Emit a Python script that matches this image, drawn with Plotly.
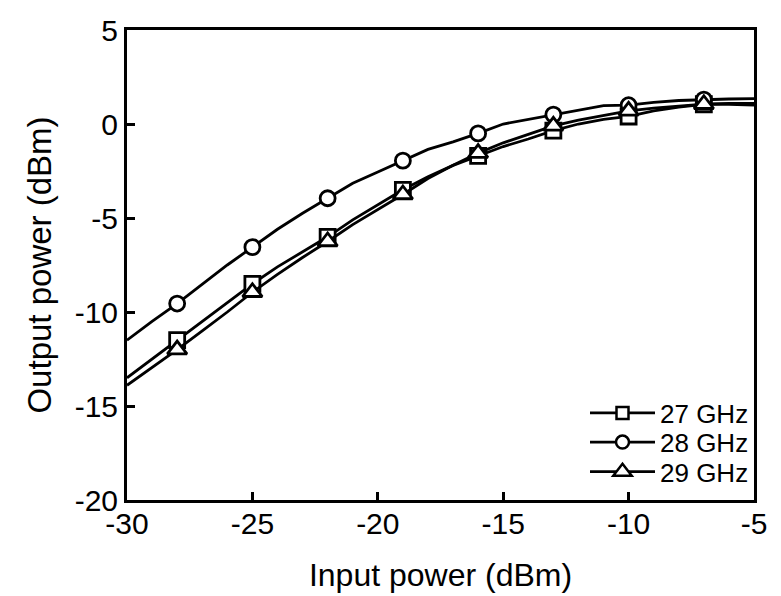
import plotly.graph_objects as go

input_power = list(range(-30, -4))
out_27 = [-13.5, -12.5, -11.5, -10.5, -9.5, -8.5, -7.6, -6.8, -6.0, -5.1, -4.3, -3.5, -2.8,
          -2.2, -1.7, -1.2, -0.8, -0.35, 0.0, 0.25, 0.4, 0.7, 0.9, 1.05, 1.1, 1.1]
out_28 = [-11.5, -10.5, -9.55, -8.5, -7.5, -6.55, -5.6, -4.75, -3.95, -3.15, -2.55, -1.95, -1.35,
          -0.95, -0.5, 0.0, 0.25, 0.5, 0.75, 0.98, 1.0, 1.15, 1.25, 1.3, 1.33, 1.35]
out_29 = [-13.9, -12.95, -12.0, -11.0, -10.0, -8.95, -8.0, -7.1, -6.25, -5.35, -4.55, -3.75, -2.9,
          -2.2, -1.55, -1.0, -0.55, -0.1, 0.2, 0.45, 0.7, 0.85, 0.95, 1.05, 1.05, 1.0]
series_names = ["27 GHz", "28 GHz", "29 GHz"]
symbols = ["square", "circle", "triangle-up"]
marker_x = [-28, -25, -22, -19, -16, -13, -10, -7]

x_tickvals = [-30, -25, -20, -15, -10, -5]
x_ticktext = ["-30", "-25", "-20", "-15", "-10", "-5"]
y_tickvals = [-20, -15, -10, -5, 0, 5]
y_ticktext = ["-20", "-15", "-10", "-5", "0", "5"]

FONT = "Liberation Sans, Arial, sans-serif"
fig = go.Figure()

for name, ys, sym in zip(series_names, [out_27, out_28, out_29], symbols):
    fig.add_trace(go.Scatter(x=input_power, y=ys, mode="lines",
                             line=dict(color="black", width=2.8),
                             showlegend=False, hoverinfo="skip"))
    mx = [x for x in input_power if x in marker_x]
    my = [y for x, y in zip(input_power, ys) if x in marker_x]
    fig.add_trace(go.Scatter(x=mx, y=my, mode="markers",
                             marker=dict(symbol=sym, size=17 if sym == "triangle-up" else 15,
                                         color="white", line=dict(color="black", width=2.8)),
                             showlegend=False))

legend_ids = ["legend", "legend2", "legend3"]
legend_rows_y = [0.185, 0.123, 0.06]
legend_marker_sizes = [12, 13, 16]

for name, sym, lid, ms in zip(series_names, symbols, legend_ids, legend_marker_sizes):
    fig.add_trace(go.Scatter(x=[None], y=[None], mode="lines+markers", name=name,
                             legend=lid,
                             line=dict(color="black", width=2.8),
                             marker=dict(symbol=sym, size=ms,
                                         color="white", line=dict(color="black", width=2.5))))

legend_common = dict(x=1.0, xanchor="right", yanchor="middle",
                     bgcolor="rgba(0,0,0,0)", font=dict(size=26, family=FONT),
                     itemwidth=65)

fig.update_layout(
    width=781, height=596,
    margin=dict(l=127, r=27, t=30, b=96),
    paper_bgcolor="white", plot_bgcolor="white",
    font=dict(family=FONT, size=30, color="black"),
    legend=dict(y=legend_rows_y[0], **legend_common),
    legend2=dict(y=legend_rows_y[1], **legend_common),
    legend3=dict(y=legend_rows_y[2], **legend_common),
)
fig.update_xaxes(range=[-30, -5], tickvals=x_tickvals, ticktext=x_ticktext,
                 showline=True, linecolor="black", linewidth=3, mirror=True,
                 ticks="inside", ticklen=8, tickwidth=2.5, tickcolor="black",
                 showgrid=False, zeroline=False, automargin=False,
                 ticklabelstandoff=-5,
                 title=dict(text="Input power (dBm)", font=dict(size=32), standoff=25),
                 tickfont=dict(size=30))
fig.update_yaxes(range=[-20, 5], tickvals=y_tickvals, ticktext=y_ticktext,
                 showline=True, linecolor="black", linewidth=3, mirror=True,
                 ticks="inside", ticklen=8, tickwidth=2.5, tickcolor="black",
                 showgrid=False, zeroline=False, automargin=False,
                 title=dict(text="Output power (dBm)", font=dict(size=33), standoff=14),
                 tickfont=dict(size=30))

fig.write_html("out.html", config={"displayModeBar": False},
               post_script="document.body.style.margin='0';document.body.style.overflow='hidden';")
